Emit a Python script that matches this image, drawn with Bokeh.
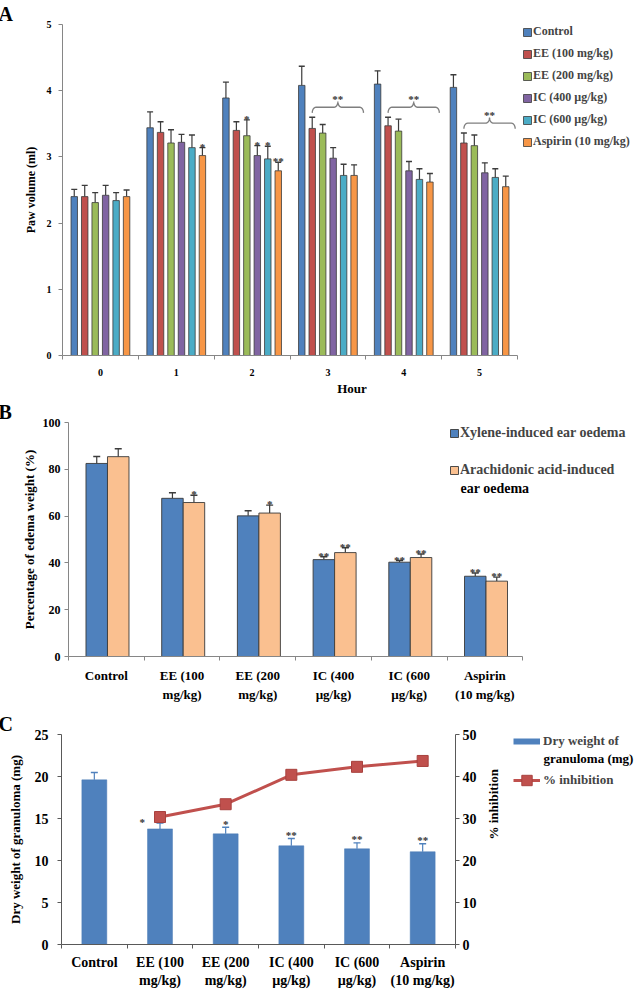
import math
import numpy as np
from bokeh.plotting import figure
from bokeh.models import (ColumnDataSource, Range1d, FixedTicker, LinearAxis,
                          Legend, LegendItem, Label)
from bokeh.layouts import row
from bokeh.core.properties import value
from bokeh.embed import file_html
from bokeh.resources import INLINE

FONT = "Liberation Serif"

# ---------------- Panel A data (paw volume, ml) ----------------
hours = ["0", "1", "2", "3", "4", "5"]
groups_a = ["Control", "EE (100 mg/kg)", "EE (200 mg/kg)",
            "IC (400 µg/kg)", "IC (600 µg/kg)", "Aspirin (10 mg/kg)"]
paw_control = [2.40, 3.44, 3.89, 4.08, 4.10, 4.05]
paw_ee100 = [2.40, 3.37, 3.40, 3.43, 3.47, 3.21]
paw_ee200 = [2.31, 3.21, 3.32, 3.36, 3.39, 3.17]
paw_ic400 = [2.42, 3.22, 3.02, 2.98, 2.79, 2.76]
paw_ic600 = [2.34, 3.14, 2.97, 2.72, 2.66, 2.69]
paw_aspirin = [2.40, 3.02, 2.79, 2.72, 2.62, 2.55]
err_control = [0.11, 0.24, 0.24, 0.29, 0.20, 0.19]
err_ee100 = [0.17, 0.16, 0.13, 0.17, 0.13, 0.15]
err_ee200 = [0.15, 0.20, 0.24, 0.13, 0.18, 0.16]
err_ic400 = [0.15, 0.12, 0.15, 0.16, 0.14, 0.15]
err_ic600 = [0.12, 0.19, 0.19, 0.17, 0.16, 0.13]
err_aspirin = [0.10, 0.12, 0.13, 0.16, 0.13, 0.16]
sig_hour1 = ["", "", "", "", "", "*"]
sig_hour2 = ["", "", "*", "*", "*", "**"]
brace_hours = ["3", "4", "5"]
brace_mark = "**"

# ---------------- Panel B data (ear oedema, %) ----------------
treatments = ["Control", "EE (100 mg/kg)", "EE (200 mg/kg)",
              "IC (400 µg/kg)", "IC (600 µg/kg)", "Aspirin (10 mg/kg)"]
treatment_ticks = ["Control", "EE (100\nmg/kg)", "EE (200\nmg/kg)",
                   "IC (400\nµg/kg)", "IC (600\nµg/kg)", "Aspirin\n(10 mg/kg)"]
xylene = [82.5, 67.6, 60.1, 41.4, 40.3, 34.3]
xylene_err = [3.0, 2.4, 2.2, 1.2, 0.7, 1.4]
arachidonic = [85.4, 65.8, 61.3, 44.4, 42.3, 32.2]
arachidonic_err = [3.4, 3.1, 3.4, 2.1, 1.5, 1.7]
sig_xylene = ["", "", "", "**", "**", "**"]
sig_arachidonic = ["", "*", "*", "**", "**", "**"]

# ---------------- Panel C data (granuloma) ----------------
granuloma = [19.6, 13.76, 13.17, 11.75, 11.39, 11.04]
granuloma_err = [0.87, 0.71, 0.79, 0.87, 0.71, 0.95]
inhibition = [float("nan"), 30.35, 33.4, 40.4, 42.3, 43.7]
sig_granuloma = ["", "*", "*", "**", "**", "**"]

AXC = "#868686"
ERR = "#3c3c3c"
STAR = "#333333"
BLUE = "#4F81BD"
RED = "#C0504D"


def base_fig(width, height, left, right, top, bottom, xr, yr, letter, letter_offset):
    p = figure(width=width, height=height, x_range=xr, y_range=yr,
               output_backend="svg", toolbar_location=None,
               min_border_left=left, min_border_right=right,
               min_border_top=top, min_border_bottom=bottom)
    p.xgrid.visible = False
    p.ygrid.visible = False
    p.outline_line_color = None
    p.background_fill_color = "white"
    p.title.text = letter
    p.title.align = "left"
    p.title.offset = letter_offset
    p.title.standoff = 0
    p.title.text_font = FONT
    p.title.text_font_style = "bold"
    p.title.text_font_size = "20px"
    p.title.text_color = "black"
    return p


def style_axis(ax, size, color=AXC):
    ax.axis_line_color = color
    ax.major_tick_line_color = color
    ax.minor_tick_line_color = color
    ax.major_label_text_font = FONT
    ax.major_label_text_font_style = "bold"
    ax.major_label_text_font_size = size
    ax.major_label_text_color = "black"
    ax.axis_label_text_font = FONT
    ax.axis_label_text_font_style = "bold"
    ax.axis_label_text_color = "black"


def band_xaxis(p, labels, size, standoff, color=AXC):
    ax = p.xaxis[0]
    n = len(labels)
    ax.bounds = (0, n)
    ax.ticker = FixedTicker(ticks=[i + 0.5 for i in range(n)], minor_ticks=list(range(n + 1)))
    ax.major_label_overrides = {i + 0.5: lab for i, lab in enumerate(labels)}
    ax.major_tick_out = 0
    ax.major_tick_in = 0
    ax.minor_tick_out = 4
    ax.minor_tick_in = 0
    ax.major_label_standoff = standoff
    style_axis(ax, size, color)
    return ax


def value_yaxis(ax, ticks, size, standoff, color=AXC):
    ax.ticker = FixedTicker(ticks=ticks, minor_ticks=[])
    ax.major_tick_out = 4
    ax.major_tick_in = 0
    ax.minor_tick_out = 0
    ax.minor_tick_in = 0
    ax.major_label_standoff = standoff
    style_axis(ax, size, color)


def star_text(p, xs, ys, texts, size="11px", yoff=-1, **kw):
    src = ColumnDataSource(dict(x=xs, y=ys, t=texts))
    p.text(x="x", y="y", text="t", source=src, text_font=value(FONT),
           text_font_style="bold", text_font_size=size, text_color=STAR,
           text_align="center", text_baseline="alphabetic", y_offset=yoff, **kw)


def legend_style(**kw):
    base = dict(padding=0, margin=0, label_width=0,
                label_text_font=FONT, label_text_font_style="bold",
                border_line_color=None, background_fill_alpha=0)
    base.update(kw)
    return base


def text_label(x, y, text, size):
    return Label(x=x, y=y, x_units="screen", y_units="screen", text=text,
                 text_font=FONT, text_font_style="bold", text_font_size=size,
                 text_color="black", text_baseline="middle")


# ======================= Panel A =======================
# frame spans hours 0..6 plus room on the right for the legend (axis bounded to 0..6)
pa = base_fig(641, 398, 62, 0, 24, 41, Range1d(0, 7.635), Range1d(0, 5), "A", -64)
A_COLORS = ["#4F81BD", "#C0504D", "#9BBB59", "#8064A2", "#4BACC6", "#F79646"]
series_a = [paw_control, paw_ee100, paw_ee200, paw_ic400, paw_ic600, paw_aspirin]
errs_a = [err_control, err_ee100, err_ee200, err_ic400, err_ic600, err_aspirin]
pitch = 0.138
bw = 0.085
bars_a, caps_a, pos_a = [], [], []
for j, (vals, errs) in enumerate(zip(series_a, errs_a)):
    xs = [i + 0.5 + (j - 2.5) * pitch for i in range(len(hours))]
    caps = [v + e for v, e in zip(vals, errs)]
    src = ColumnDataSource(dict(x=xs, top=vals, cap=caps))
    pa.segment(x0="x", y0="top", x1="x", y1="cap", source=src, line_color=ERR, line_width=1.2)
    pa.scatter(x="x", y="cap", marker="dash", size=6, source=src, line_color=ERR, line_width=1.4)
    r = pa.vbar(x="x", top="top", bottom=0, width=bw, source=src,
                fill_color=A_COLORS[j], line_color="#3a3a3a", line_width=0.8)
    bars_a.append(r)
    caps_a.append(caps)
    pos_a.append(xs)

for h, sig in (("1", sig_hour1), ("2", sig_hour2)):
    i = hours.index(h)
    star_text(pa, [pos_a[j][i] for j in range(6) if sig[j]],
              [caps_a[j][i] for j in range(6) if sig[j]], [s for s in sig if s])

# curly braces over the treated groups at hours 3-5
bx, by, tx, ty = [], [], [], []
for h in brace_hours:
    i = hours.index(h)
    x0 = pos_a[1][i]
    x1 = pos_a[5][i] + 0.9 * pitch
    yb = max(caps_a[j][i] for j in range(1, 6)) + 0.15
    rx, ry = 0.05, 0.085
    xm = (x0 + x1) / 2
    xs, ys = [], []
    t = np.linspace(np.pi, np.pi / 2, 8)
    xs += list(x0 + rx + rx * np.cos(t)); ys += list(yb - ry + ry * np.sin(t))
    t = np.linspace(-np.pi / 2, 0, 8)
    xs += list(xm - rx + rx * np.cos(t)); ys += list(yb + ry + ry * np.sin(t))
    t = np.linspace(np.pi, 1.5 * np.pi, 8)
    xs += list(xm + rx + rx * np.cos(t)); ys += list(yb + ry + ry * np.sin(t))
    t = np.linspace(np.pi / 2, 0, 8)
    xs += list(x1 - rx + rx * np.cos(t)); ys += list(yb - ry + ry * np.sin(t))
    bx.append(xs); by.append(ys)
    tx.append(xm); ty.append(yb + ry)
pa.multi_line(xs=bx, ys=by, line_color="#7f7f7f", line_width=1.3)
star_text(pa, tx, ty, [brace_mark] * len(tx), yoff=-3)

band_xaxis(pa, hours, "10px", 9)
pa.xaxis.axis_label = "Hour"
pa.xaxis.axis_label_text_font_size = "13px"
pa.xaxis.axis_label_standoff = 2
value_yaxis(pa.yaxis[0], [0, 1, 2, 3, 4, 5], "10px", 7)
pa.yaxis.axis_label = "Paw volume (ml)"
pa.yaxis.axis_label_text_font_size = "12px"
pa.yaxis.axis_label_standoff = 6

leg_a = Legend(items=[LegendItem(label=g, renderers=[r]) for g, r in zip(groups_a, bars_a)],
               location=(460, 206), glyph_width=10, glyph_height=10, label_standoff=1,
               spacing=7, label_height=10, label_text_font_size="12px", **legend_style())
pa.add_layout(leg_a)

# ======================= Panel B =======================
pb = base_fig(641, 307, 68, 0, 24, 44, Range1d(0, 7.569), Range1d(0, 100), "B", -70)
B_COLORS = ["#4F81BD", "#FAC090"]
series_b = [xylene, arachidonic]
errs_b = [xylene_err, arachidonic_err]
sigs_b = [sig_xylene, sig_arachidonic]
names_b = ["Xylene-induced ear oedema", "Arachidonic acid-induced"]
bwb = 0.284
bars_b = []
for j, (vals, errs, sig) in enumerate(zip(series_b, errs_b, sigs_b)):
    xs = [i + 0.5 + (j - 0.5) * bwb + 0.015 for i in range(len(treatments))]
    caps = [v + e for v, e in zip(vals, errs)]
    src = ColumnDataSource(dict(x=xs, top=vals, cap=caps))
    pb.segment(x0="x", y0="top", x1="x", y1="cap", source=src, line_color=ERR, line_width=1.2)
    pb.scatter(x="x", y="cap", marker="dash", size=7, source=src, line_color=ERR, line_width=1.4)
    r = pb.vbar(x="x", top="top", bottom=0, width=bwb, source=src,
                fill_color=B_COLORS[j], line_color="#3a3a3a", line_width=0.9)
    bars_b.append(r)
    star_text(pb, [x for x, s in zip(xs, sig) if s], [c for c, s in zip(caps, sig) if s],
              [s for s in sig if s], yoff=-1)

band_xaxis(pb, treatment_ticks, "13px", 7)
pb.xaxis.major_label_text_line_height = 1.3
value_yaxis(pb.yaxis[0], [0, 20, 40, 60, 80, 100], "12px", 4)
pb.yaxis.axis_label = "Percentage of edema weight (%)"
pb.yaxis.axis_label_text_font_size = "13px"
pb.yaxis.axis_label_standoff = 3

leg_b = Legend(items=[LegendItem(label=n, renderers=[r]) for n, r in zip(names_b, bars_b)],
               location=(381, 178), glyph_width=10, glyph_height=10, label_standoff=1,
               spacing=21, label_height=10, label_text_font_size="14px", **legend_style())
pb.add_layout(leg_b)
pb.add_layout(text_label(392, 168, "ear oedema", "14px"))

# ======================= Panel C =======================
pc = base_fig(511, 287, 61, 0, 29, 48, Range1d(0, 6), Range1d(0, 25), "C", -63)
pc.extra_y_ranges = {"pct": Range1d(0, 50)}
CAXC = "#595959"
xs_c = [i + 0.5 for i in range(len(treatments))]
caps_c = [v + e for v, e in zip(granuloma, granuloma_err)]
src_c = ColumnDataSource(dict(x=xs_c, top=granuloma, cap=caps_c, inh=inhibition))
pc.segment(x0="x", y0="top", x1="x", y1="cap", source=src_c, line_color=BLUE, line_width=1.2)
pc.scatter(x="x", y="cap", marker="dash", size=7, source=src_c, line_color=BLUE, line_width=1.4)
pc.vbar(x="x", top="top", bottom=0, width=0.38, source=src_c,
        fill_color=BLUE, line_color="#4A7AB5", line_width=0.5)
pc.line(x="x", y="inh", source=src_c, y_range_name="pct", line_color=RED, line_width=3)
pc.scatter(x="x", y="inh", source=src_c, y_range_name="pct", marker="square",
           size=11, fill_color=RED, line_color="#A8413E", line_width=1)

sx, sy, st = [], [], []
for i, s in enumerate(sig_granuloma):
    if s:
        if i == 1:   # sits left of its bar, beside the line marker
            sx.append(xs_c[i] - 0.27); sy.append(caps_c[i])
        else:
            sx.append(xs_c[i]); sy.append(caps_c[i] + 0.3)
        st.append(s)
star_text(pc, sx, sy, st, yoff=-1)

band_xaxis(pc, treatment_ticks, "14px", 6, CAXC)
pc.xaxis.major_label_text_line_height = 1.25
value_yaxis(pc.yaxis[0], [0, 5, 10, 15, 20, 25], "14px", 9, CAXC)
pc.yaxis.axis_label = "Dry weight of granuloma (mg)"
pc.yaxis.axis_label_text_font_size = "13px"
pc.yaxis.axis_label_standoff = 9
rax = LinearAxis(y_range_name="pct")
value_yaxis(rax, [0, 10, 20, 30, 40, 50], "14px", 3, CAXC)
rax.axis_label = "% inhibition"
rax.axis_label_text_font_size = "13px"
rax.axis_label_standoff = 14
if "axis_label_orientation" in rax.properties():
    rax.axis_label_orientation = math.pi / 2
pc.add_layout(rax, "right")

# legend panel to the right of panel C (keys drawn by off-range proxy renderers)
pl = figure(width=130, height=287, x_range=Range1d(0, 1), y_range=Range1d(0, 1),
            output_backend="svg", toolbar_location=None,
            x_axis_location=None, y_axis_location=None,
            min_border_left=0, min_border_right=0, min_border_top=29, min_border_bottom=48)
pl.xgrid.visible = False
pl.ygrid.visible = False
pl.outline_line_color = None
key_bar = pl.line(x=[-3, -2], y=[-3, -3], line_color=BLUE, line_width=6)
key_line = pl.line(x=[-3, -2], y=[-3, -3], line_color=RED, line_width=3)
key_mark = pl.scatter(x=[-3], y=[-3], marker="square", size=11,
                      fill_color=RED, line_color="#A8413E", line_width=1)
leg_c1 = Legend(items=[LegendItem(label="Dry weight of", renderers=[key_bar])],
                location=(2, 195), glyph_width=27, glyph_height=8, label_standoff=3,
                spacing=0, label_height=8, label_text_font_size="13px", **legend_style())
pl.add_layout(leg_c1)
pl.add_layout(text_label(32, 186, "granuloma (mg)", "13px"))
leg_c2 = Legend(items=[LegendItem(label="% inhibition", renderers=[key_line, key_mark])],
                location=(2, 151), glyph_width=27, glyph_height=26, label_standoff=3,
                spacing=0, label_height=8, label_text_font_size="13px", **legend_style())
pl.add_layout(leg_c2)

open("out.html", "w").write(file_html([pa, pb, row(pc, pl)], INLINE))
